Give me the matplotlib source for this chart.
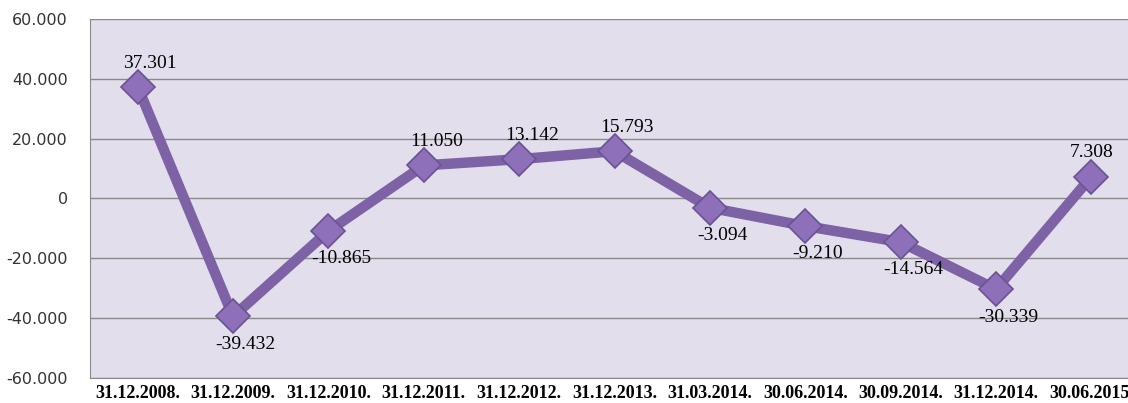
import numpy as np
import matplotlib.pyplot as plt
from matplotlib.ticker import FuncFormatter

# podaci
dates = ["31.12.2008.", "31.12.2009.", "31.12.2010.", "31.12.2011.", "31.12.2012.",
         "31.12.2013.", "31.03.2014.", "30.06.2014.", "30.09.2014.", "31.12.2014.",
         "30.06.2015."]
values = [37301, -39432, -10865, 11050, 13142, 15793, -3094, -9210, -14564, -30339, 7308]

def fmt(v):
    return f"{v:,.0f}".replace(",", ".")

x = np.arange(len(dates))
y = np.array(values)

fig = plt.figure(figsize=(11.28, 4.03), dpi=100)
ax = fig.add_axes([0.0798, 0.062, 0.93, 0.891])
ax.set_facecolor("#e3deeb")

ax.plot(x, y, color="#7d62a6", lw=7.5, solid_joinstyle="round", zorder=3)
ax.plot(x, y, ls="none", marker="D", ms=17, mfc="#8d6fba", mec="#6a5392", mew=1.2, zorder=4)

for i, (xi, v) in enumerate(zip(x, y)):
    off = 17 if v > 0 else -20
    dx = 0 if i == len(x) - 1 else 9
    ax.annotate(fmt(v), (xi, v), xytext=(dx, off), textcoords="offset points",
                ha="center", va="center", fontsize=14, family="Liberation Serif", zorder=5)

ax.set_xlim(-0.5, len(dates) - 0.5)
ax.set_ylim(-60000, 60000)
ax.set_yticks(np.arange(-60000, 60001, 20000))
ax.yaxis.set_major_formatter(FuncFormatter(lambda v, p: fmt(v)))
ax.set_xticks(x)
ax.set_xticklabels(dates, family="Liberation Serif", fontsize=13, fontweight="bold")
ax.tick_params(axis="y", labelsize=11.5, colors="#333333", length=0, pad=16)
ax.tick_params(axis="x", length=0, pad=5)
ax.grid(axis="y", color="#8a8a8a", lw=1)
ax.set_axisbelow(True)
for s in ["top", "right"]:
    ax.spines[s].set_visible(False)
for s in ["left", "bottom"]:
    ax.spines[s].set_color("#8a8a8a")

fig.savefig("out.png", dpi=100)
